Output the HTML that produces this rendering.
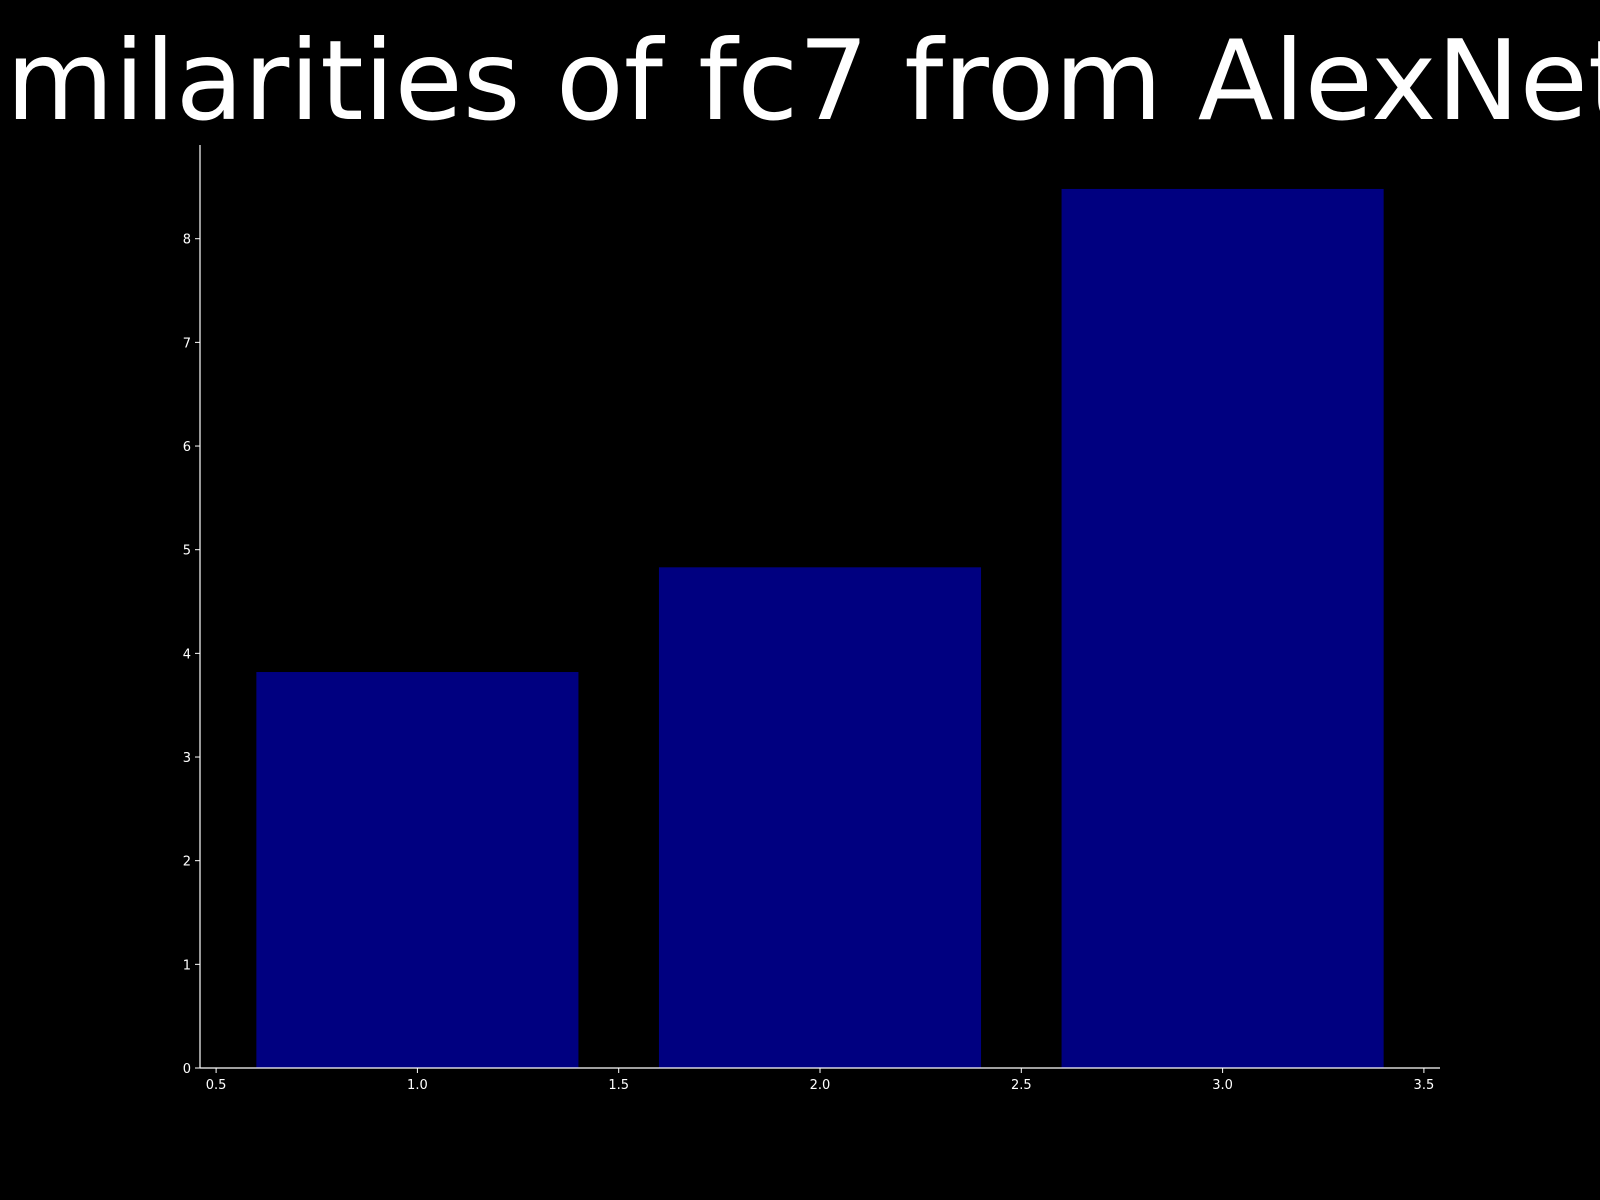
<!DOCTYPE html>
<html><head><meta charset="utf-8"><style>
html,body{margin:0;padding:0;background:#000;width:1600px;height:1200px;overflow:hidden}
svg text{font-family:"DejaVu Sans","Liberation Sans",sans-serif;fill:#fff}
</style></head><body>
<svg id="chart" width="1600" height="1200" xmlns="http://www.w3.org/2000/svg">
<rect width="1600" height="1200" fill="#000"/>
<text x="768" y="119" text-anchor="middle" font-size="111">Similarities of fc7 from AlexNet</text>
<g id="bars"></g><g id="axes"></g>
</svg>
<script>
const categories = [1, 2, 3];
const values = [3.82, 4.83, 8.48];
const xTicks = [0.5, 1.0, 1.5, 2.0, 2.5, 3.0, 3.5];
const xTickLabels = ["0.5","1.0","1.5","2.0","2.5","3.0","3.5"];
const yTicks = [0,1,2,3,4,5,6,7,8];
const yTickLabels = ["0","1","2","3","4","5","6","7","8"];
const barWidth = 0.8;
const L=200,R=1440,T=145,B=1068;
const xMin=0.6-0.14,xMax=3.4+0.14,yMax=Math.max(...values)*1.05;
const xs=v=>L+(v-xMin)/(xMax-xMin)*(R-L);
const ys=v=>B-v/yMax*(B-T);
const NS="http://www.w3.org/2000/svg";
const bars=document.getElementById('bars'),axes=document.getElementById('axes');
function mk(tag,attrs,parent){const e=document.createElementNS(NS,tag);for(const k in attrs)e.setAttribute(k,attrs[k]);parent.appendChild(e);return e;}
categories.forEach((c,i)=>{
  const r=mk('rect',{x:xs(c-barWidth/2),y:ys(values[i]),width:xs(c+barWidth/2)-xs(c-barWidth/2),height:B-ys(values[i]),fill:'#000080'},bars);
  
  
});
const la=mk('line',{x1:L,y1:T,x2:L,y2:B,stroke:'#fff','stroke-width':1.2},axes);


const ba=mk('line',{x1:L,y1:B,x2:R,y2:B,stroke:'#fff','stroke-width':1.2},axes);


xTicks.forEach((t,i)=>{
  const x=xs(t);
  const tk=mk('line',{x1:x,y1:B,x2:x,y2:B+5,stroke:'#fff','stroke-width':1},axes);
  
  
  const tx=mk('text',{x:x,y:B+21,'text-anchor':'middle','font-size':13},axes);
  tx.textContent=xTickLabels[i];
  
  
});
yTicks.forEach((t,i)=>{
  const y=ys(t);
  const tk=mk('line',{x1:L-5,y1:y,x2:L,y2:y,stroke:'#fff','stroke-width':1},axes);
  
  
  const tx=mk('text',{x:L-9,y:y+5,'text-anchor':'end','font-size':13},axes);
  tx.textContent=yTickLabels[i];
  
  
});
</script>
</body></html>
